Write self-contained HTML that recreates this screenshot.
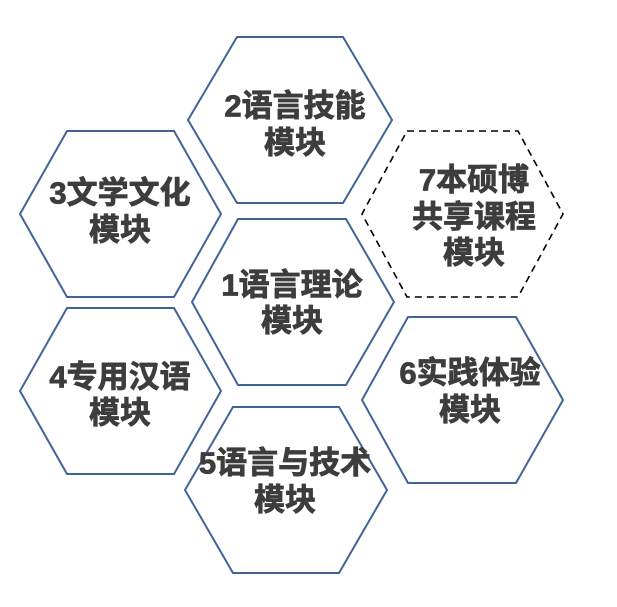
<!DOCTYPE html>
<html><head><meta charset="utf-8"><style>html,body{margin:0;padding:0;background:#fff}svg{display:block}</style></head>
<body>
<svg width="617" height="607" viewBox="0 0 617 607" xmlns="http://www.w3.org/2000/svg">
<g fill="none" stroke="#3F6497" stroke-width="2">
<polygon points="237,37 343,37 392,120 343,203 237,203 188,120"/>
<polygon points="67,131 174,131 221,214 174,297 67,297 20,214"/>
<polygon points="238,219 346,219 394,302 346,385 238,385 192,302"/>
<polygon points="67,308 174,308 221,391 174,474 67,474 20,391"/>
<polygon points="408,317 516,317 563,400 516,483 408,483 362,400"/>
<polygon points="233,407 339,407 387,490 339,573 233,573 185,490"/>
<polygon points="407,131 518,131 563,214 518,297 407,297 362,214" stroke="#000" stroke-width="1.6" stroke-dasharray="7,5"/>
</g>
<g font-family="Liberation Sans, Noto Sans CJK SC, sans-serif" font-weight="bold" font-size="31" fill="#3d3d3d" stroke="#3d3d3d" stroke-width="0.8" text-anchor="middle" dominant-baseline="central">
<text x="295" y="106">2语言技能</text><text x="295" y="143">模块</text>
<text x="120" y="193">3文学文化</text><text x="120" y="230">模块</text>
<text x="474" y="180">7本硕博</text><text x="474" y="217">共享课程</text><text x="474" y="253">模块</text>
<text x="292" y="285">1语言理论</text><text x="292" y="321">模块</text>
<text x="120" y="377">4专用汉语</text><text x="120" y="413">模块</text>
<text x="470" y="373">6实践体验</text><text x="470" y="410">模块</text>
<text x="285" y="463">5语言与技术</text><text x="285" y="500">模块</text>
</g>
</svg>
</body></html>
